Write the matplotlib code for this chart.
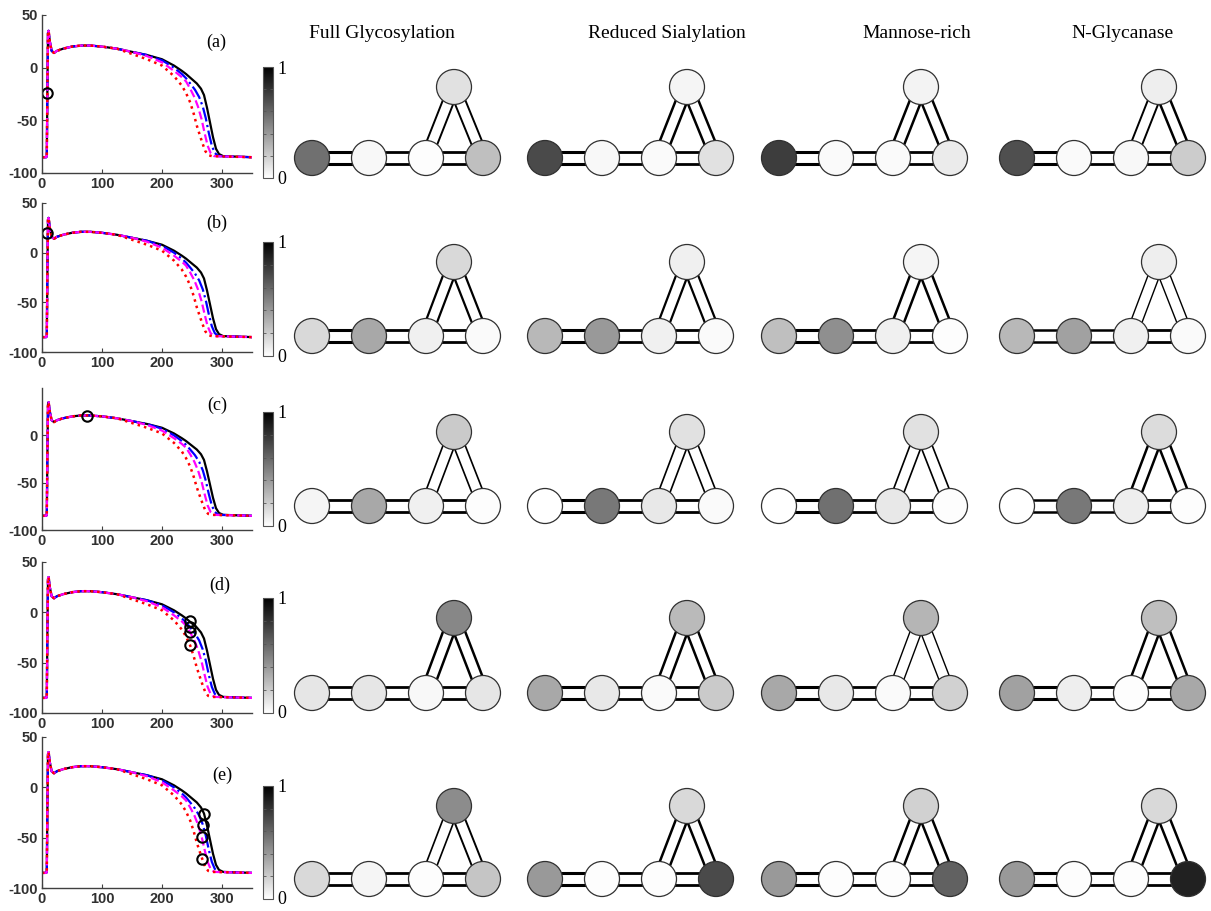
import numpy as np
import matplotlib
matplotlib.use("Agg")
import matplotlib.pyplot as plt
from matplotlib.patches import Circle
from matplotlib.cm import ScalarMappable
from matplotlib.colors import Normalize

plt.rcParams["axes.unicode_minus"] = False

W, H = 1211, 911

# action potential traces (time in ms, voltage in mV), shared upstroke/plateau
head_t = [0, 7, 8, 9, 10, 11, 13, 16, 20, 25, 35, 50, 65, 80, 100, 125, 150]
head_v = [-85, -85, -84, -20, 33, 35, 25, 16, 14, 16, 18, 20, 21, 21, 20, 18, 15]

black_t = head_t + [175, 200, 220, 233, 240, 250, 258, 265, 270, 275, 280, 285, 290, 295, 302, 350]
black_v = head_v + [12, 8, 2, -3, -6, -11, -15, -20, -26, -38, -52, -66, -77, -82, -84, -85]
blue_t = head_t + [175, 200, 220, 233, 240, 247, 255, 262, 268, 273, 278, 283, 288, 294, 350]
blue_v = head_v + [12, 7, 0, -6, -10, -15, -21, -28, -37, -48, -62, -74, -81, -84, -85]
magenta_t = head_t + [175, 200, 220, 233, 240, 247, 254, 260, 266, 271, 276, 281, 287, 350]
magenta_v = head_v + [11, 5, -3, -9, -13, -20, -28, -37, -49, -62, -74, -81, -84, -85]
red_t = head_t[:-1] + [150, 175, 200, 220, 233, 240, 247, 253, 258, 263, 267, 272, 277, 283, 350]
red_v = head_v[:-1] + [13, 8, 2, -8, -17, -24, -33, -44, -55, -64, -71, -79, -83, -84, -85]

# sampled points marked on each panel
marks = {
    "a": [(8, -24)],
    "b": [(9, 20)],
    "c": [(75, 20)],
    "d": [(247, -9), (247, -15), (247, -20), (246, -32)],
    "e": [(270, -26), (268, -37), (266, -49), (267, -71)],
}

panels = ["a", "b", "c", "d", "e"]
conditions = ["Full Glycosylation", "Reduced Sialylation", "Mannose-rich", "N-Glycanase"]

# state occupancy per panel and condition: [C3, C2, C1, O, I]
occupancy = {
    "a": [[0.56, 0.03, 0.01, 0.25, 0.12],
          [0.71, 0.03, 0.02, 0.12, 0.04],
          [0.76, 0.02, 0.02, 0.08, 0.05],
          [0.69, 0.02, 0.03, 0.20, 0.07]],
    "b": [[0.15, 0.34, 0.06, 0.02, 0.15],
          [0.28, 0.40, 0.06, 0.02, 0.06],
          [0.25, 0.44, 0.06, 0.01, 0.04],
          [0.28, 0.37, 0.06, 0.02, 0.07]],
    "c": [[0.04, 0.34, 0.06, 0.01, 0.21],
          [0.00, 0.53, 0.09, 0.02, 0.12],
          [0.00, 0.56, 0.09, 0.01, 0.12],
          [0.00, 0.53, 0.07, 0.01, 0.14]],
    "d": [[0.10, 0.10, 0.03, 0.10, 0.47],
          [0.34, 0.09, 0.02, 0.21, 0.27],
          [0.34, 0.09, 0.02, 0.18, 0.29],
          [0.37, 0.07, 0.01, 0.34, 0.25]],
    "e": [[0.15, 0.04, 0.01, 0.23, 0.45],
          [0.40, 0.01, 0.01, 0.71, 0.15],
          [0.40, 0.01, 0.01, 0.62, 0.18],
          [0.40, 0.01, 0.01, 0.87, 0.15]],
}

# line widths of the transitions: [C3-C2, C2-C1, C1-O, I-C1, I-O]
flux_lw = {
    "a": [[2.2, 2.0, 2.0, 1.4, 1.4], [2.2, 2.0, 2.0, 1.8, 1.8], [2.2, 2.0, 2.0, 1.8, 1.8], [2.2, 2.0, 2.0, 1.4, 1.8]],
    "b": [[2.2, 2.0, 2.0, 1.6, 1.6], [2.2, 2.0, 2.0, 1.6, 1.6], [2.2, 2.0, 2.0, 1.8, 1.8], [1.8, 1.8, 2.0, 1.0, 1.0]],
    "c": [[2.0, 2.0, 2.0, 1.2, 1.2], [2.2, 2.0, 2.0, 1.2, 1.2], [2.2, 2.0, 2.0, 1.2, 1.2], [1.8, 1.8, 2.0, 1.8, 1.8]],
    "d": [[2.0, 2.0, 2.0, 1.8, 1.8], [2.2, 2.0, 2.0, 1.8, 1.8], [2.2, 2.0, 2.0, 1.0, 1.0], [2.2, 2.0, 2.0, 1.8, 1.8]],
    "e": [[2.0, 2.0, 2.0, 1.2, 1.4], [2.2, 2.0, 2.0, 1.8, 1.8], [2.2, 2.0, 2.0, 1.8, 1.8], [2.2, 2.0, 2.0, 1.8, 1.8]],
}

# layout in pixels
ap_rows = [(15, 173), (203, 352), (388, 530), (562, 713), (737, 888)]
node_y = [(158, 87), (336, 262), (506, 432), (693, 618), (879, 806)]
col_x0 = [312, 545, 779, 1017]
dx = [0, 57, 114, 171]
top_dx = 142
R = 17.5
title_x = [382, 667, 917, 1122]
label_pos = [(216, 42), (217, 223), (217, 405), (220, 585), (222, 775)]

cmap = plt.get_cmap("gray_r")
serif = "Liberation Serif"

fig = plt.figure(figsize=(W / 100, H / 100), dpi=100)

net = fig.add_axes([0, 0, 1, 1], zorder=0)
net.set_xlim(0, W)
net.set_ylim(H, 0)
net.axis("off")


def px_axes(x0, y0, x1, y1, **kw):
    return fig.add_axes([x0 / W, 1 - y1 / H, (x1 - x0) / W, (y1 - y0) / H], **kw)


def double_edge(p, q, lw, gap):
    p, q = np.array(p, float), np.array(q, float)
    d = q - p
    n = np.array([-d[1], d[0]]) / np.hypot(*d)
    for s in (-1, 1):
        a, b = p + s * gap * n, q + s * gap * n
        net.plot([a[0], b[0]], [a[1], b[1]], color="black", lw=lw,
                 solid_capstyle="butt", zorder=1)


for j, name in enumerate(conditions):
    net.text(title_x[j], 33, name, ha="center", va="center",
             fontsize=14, family=serif)

for i, key in enumerate(panels):
    top, bot = ap_rows[i]
    ax = px_axes(42, top, 252, bot, zorder=2)
    ax.plot(black_t, black_v, color="black", lw=1.6)
    ax.plot(blue_t, blue_v, color="blue", lw=1.6, ls="-.")
    ax.plot(magenta_t, magenta_v, color="magenta", lw=1.6, ls="--")
    ax.plot(red_t, red_v, color="red", lw=1.8, ls=":")
    mt, mv = zip(*marks[key])
    ax.plot(mt, mv, "o", ms=7.5, mfc="none", mec="black", mew=1.5)
    ax.set_xlim(0, 350)
    ax.set_ylim(-100, 50)
    ax.set_xticks([0, 100, 200, 300])
    ax.set_yticks([-100, -50, 0] if key == "c" else [-100, -50, 0, 50])
    for s in ("top", "right"):
        ax.spines[s].set_visible(False)
    for s in ("left", "bottom"):
        ax.spines[s].set_color("#404040")
        ax.spines[s].set_linewidth(1.0)
    ax.tick_params(direction="in", length=3, width=0.8, color="#404040", pad=3)
    for lab in ax.get_xticklabels() + ax.get_yticklabels():
        lab.set_fontfamily("Liberation Sans")
        lab.set_fontweight("bold")
        lab.set_fontsize(10.5)
        lab.set_color("#303030")
    ax.patch.set_alpha(0)
    lx, ly = label_pos[i]
    net.text(lx, ly, "(%s)" % key, ha="center", va="center", fontsize=13,
             family=serif, zorder=5)

    # colour scale
    yb, yt = node_y[i]
    cax = px_axes(263, yt - 20, 273, yb + 20)
    cb = fig.colorbar(ScalarMappable(Normalize(0, 1), cmap), cax=cax)
    cb.set_ticks([0, 0.2, 0.4, 0.6, 0.8, 1])
    cb.outline.set_linewidth(0.8)
    cb.outline.set_edgecolor("#555555")
    cax.tick_params(axis="y", direction="in", length=2.5, width=0.6,
                    left=True, right=True, labelright=False, color="#555555")
    net.text(277, yt - 18, "1", ha="left", va="center", fontsize=13, family=serif)
    net.text(277, yb + 21, "0", ha="left", va="center", fontsize=13, family=serif)

    # state diagrams
    for j in range(4):
        x0 = col_x0[j]
        pts = [(x0 + d, yb) for d in dx] + [(x0 + top_dx, yt)]
        lws = flux_lw[key][j]
        double_edge(pts[0], pts[1], lws[0], 6)
        double_edge(pts[1], pts[2], lws[1], 6)
        double_edge(pts[2], pts[3], lws[2], 6)
        double_edge(pts[4], pts[2], lws[3], 5.5)
        double_edge(pts[4], pts[3], lws[4], 5.5)
        for (x, y), val in zip(pts, occupancy[key][j]):
            net.add_patch(Circle((x, y), R, facecolor=cmap(val),
                                 edgecolor="#303030", lw=0.9, zorder=3))

fig.savefig("out.png", dpi=100)
